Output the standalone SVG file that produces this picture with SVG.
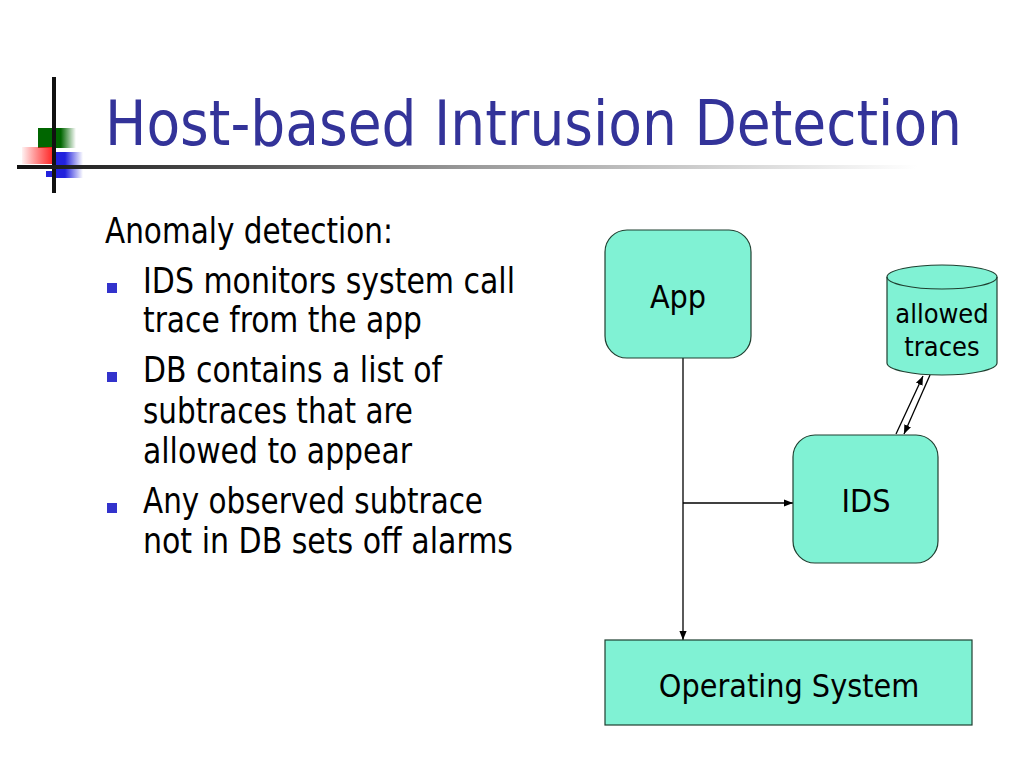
<svg xmlns="http://www.w3.org/2000/svg" width="1024" height="768" viewBox="0 0 1024 768">
<defs>
<linearGradient id="lineG" x1="0" x2="1" y1="0" y2="0">
<stop offset="0" stop-color="#111"/><stop offset="0.5" stop-color="#999"/><stop offset="1" stop-color="#fff"/>
</linearGradient>
<linearGradient id="greenG" x1="0" x2="1"><stop offset="0.6" stop-color="#006600"/><stop offset="1" stop-color="#006600" stop-opacity="0"/></linearGradient>
<linearGradient id="redG" x1="0" x2="1"><stop offset="0" stop-color="#ff0000" stop-opacity="0.05"/><stop offset="1" stop-color="#ff2020"/></linearGradient>
<linearGradient id="blueG" x1="0" x2="1"><stop offset="0.4" stop-color="#2222dd"/><stop offset="1" stop-color="#2222dd" stop-opacity="0"/></linearGradient>
<marker id="arr" viewBox="0 0 10 10" refX="10" refY="5" markerWidth="9" markerHeight="9" orient="auto" markerUnits="userSpaceOnUse">
<path d="M0,1 L10,5 L0,9 z" fill="#000"/>
</marker>
<style>
.t{font-family:"DejaVu Sans Condensed","DejaVu Sans",sans-serif;fill:#000}
.title{font-family:"DejaVu Sans Condensed","DejaVu Sans",sans-serif;fill:#333399;font-size:63px}
.body{font-size:35px}
.box{fill:#80F2D4;stroke:#1f3f30;stroke-width:1.2}
.lbl{font-size:32px;text-anchor:middle}
.conn{stroke:#000;stroke-width:1.3;fill:none}
.bul{fill:#3333cc}
</style>
</defs>
<rect width="1024" height="768" fill="#fff"/>
<g id="logo">
<rect x="38" y="128" width="38" height="20" fill="url(#greenG)"/>
<rect x="22" y="147" width="32" height="17" fill="url(#redG)"/>
<rect x="53" y="152" width="30" height="26" fill="url(#blueG)"/>
<rect x="46" y="171" width="10" height="6" fill="#2222dd"/>
<rect x="52" y="77" width="4" height="116" fill="#111"/>
<rect x="17" y="165" width="900" height="4" fill="url(#lineG)"/>
</g>
<text class="title" x="105" y="145" textLength="857" lengthAdjust="spacingAndGlyphs">Host-based Intrusion Detection</text>
<g id="bullets">
<text class="t body" x="105" y="243" textLength="288" lengthAdjust="spacingAndGlyphs">Anomaly detection:</text>
<rect class="bul" x="107" y="283" width="10" height="10"/>
<text class="t body" x="143" y="293" textLength="372" lengthAdjust="spacingAndGlyphs">IDS monitors system call</text>
<text class="t body" x="143" y="332" textLength="279" lengthAdjust="spacingAndGlyphs">trace from the app</text>
<rect class="bul" x="107" y="372" width="10" height="10"/>
<text class="t body" x="143" y="382" textLength="299" lengthAdjust="spacingAndGlyphs">DB contains a list of</text>
<text class="t body" x="143" y="423" textLength="270" lengthAdjust="spacingAndGlyphs">subtraces that are</text>
<text class="t body" x="143" y="463" textLength="269" lengthAdjust="spacingAndGlyphs">allowed to appear</text>
<rect class="bul" x="107" y="503" width="10" height="10"/>
<text class="t body" x="143" y="513" textLength="340" lengthAdjust="spacingAndGlyphs">Any observed subtrace</text>
<text class="t body" x="143" y="553" textLength="370" lengthAdjust="spacingAndGlyphs">not in DB sets off alarms</text>
</g>
<g id="connectors">
<line class="conn" x1="683" y1="358" x2="683" y2="640" marker-end="url(#arr)"/>
<line class="conn" x1="683" y1="503" x2="793" y2="503" marker-end="url(#arr)"/>
<line class="conn" x1="896" y1="434" x2="923" y2="376" marker-end="url(#arr)"/>
<line class="conn" x1="930" y1="375" x2="904" y2="434" marker-end="url(#arr)"/>
</g>
<g id="app">
<rect class="box" x="605" y="230" width="146" height="128" rx="22"/>
<text class="t lbl" x="678" y="308">App</text>
</g>
<g id="db">
<path class="box" d="M887,277 L887,363 A55,12 0 0 0 997,363 L997,277 A55,12 0 0 0 887,277 Z"/>
<path d="M887,277 A55,12 0 0 0 997,277" fill="none" stroke="#1f3f30" stroke-width="1.2"/>
<text class="t" font-size="27" text-anchor="middle" x="942" y="323">allowed</text>
<text class="t" font-size="27" text-anchor="middle" x="942" y="356">traces</text>
</g>
<g id="ids">
<rect class="box" x="793" y="435" width="145" height="128" rx="22"/>
<text class="t lbl" x="866" y="512">IDS</text>
</g>
<g id="os">
<rect class="box" x="605" y="640" width="367" height="85"/>
<text class="t lbl" x="789" y="697">Operating System</text>
</g>
</svg>
